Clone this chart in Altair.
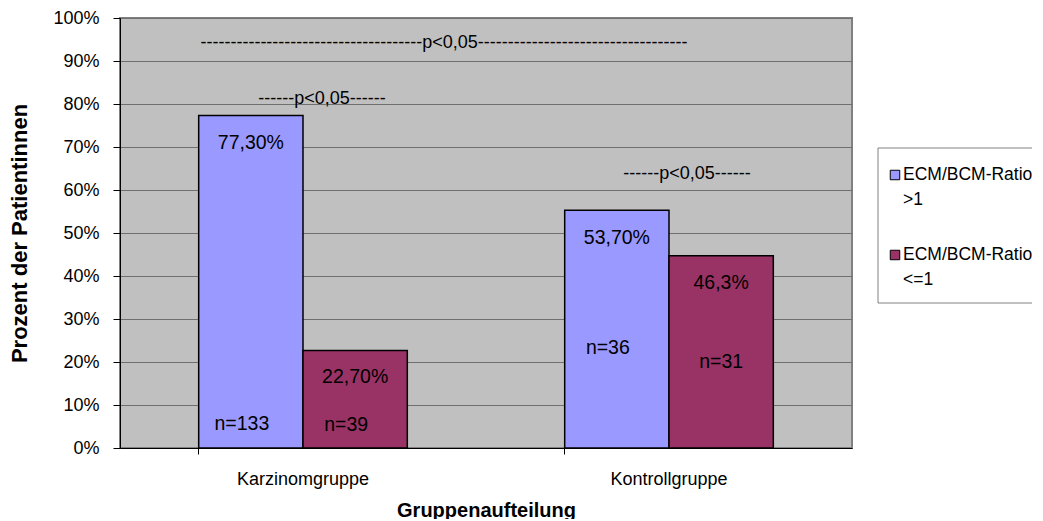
import altair as alt
import pandas as pd

groups = ["Karzinomgruppe", "Kontrollgruppe"]
series = ["ECM/BCM-Ratio >1", "ECM/BCM-Ratio <=1"]
colors = ["#9999FF", "#993366"]

# bar heights as drawn (percent)
karzinom_vals = [77.3, 22.7]
kontroll_vals = [55.3, 44.7]

pct_labels = ["77,30%", "22,70%", "53,70%", "46,3%"]
n_labels = ["n=133", "n=39", "n=36", "n=31"]
pct_label_y = [70.9, 16.6, 48.8, 38.3]
n_label_y = [5.6, 5.3, 23.2, 20.1]
n_label_shifted = [True, True, True, False]

rows = []
vals = [karzinom_vals, kontroll_vals]
k = 0
for gi, g in enumerate(groups):
    for si, s in enumerate(series):
        rows.append({"group": g, "series": s, "value": vals[gi][si],
                     "pct": pct_labels[k], "n": n_labels[k],
                     "pct_y": pct_label_y[k], "n_y": n_label_y[k],
                     "shift": n_label_shifted[k]})
        k += 1
df = pd.DataFrame(rows)

FONT = "Liberation Sans"

x_enc = alt.X("group:N", sort=groups,
              scale=alt.Scale(paddingInner=0.43, paddingOuter=0.215),
              axis=alt.Axis(title="Gruppenaufteilung", labelAngle=0, bandPosition=0,
                            tickSize=6, labelPadding=16, labelFontSize=18, labelFont=FONT,
                            titleFontSize=20, titleFont=FONT, titleFontWeight="bold",
                            titleY=68, titleBaseline="alphabetic",
                            domainColor="black", tickColor="black", labelColor="black",
                            titleColor="black", grid=False))
xo_enc = alt.XOffset("series:N", sort=series)
y_scale = alt.Scale(domain=[0, 100])

base = alt.Chart(df)

bars = base.mark_bar(stroke="black", strokeWidth=1.5).encode(
    x=x_enc,
    xOffset=xo_enc,
    y=alt.Y("value:Q", scale=y_scale,
            axis=alt.Axis(title="Prozent der Patientinnen", values=list(range(0, 101, 10)),
                          labelExpr="datum.value + '%'", tickSize=7, labelPadding=14,
                          labelFontSize=18, labelFont=FONT, titleFontSize=22, titleFont=FONT,
                          titleFontWeight="bold", titleX=-101, titleBaseline="middle",
                          domainColor="black", tickColor="black", labelColor="black",
                          titleColor="black", grid=True, gridColor="#707070", gridWidth=1)),
    color=alt.Color("series:N", scale=alt.Scale(domain=series, range=colors), legend=None),
)

pct_text = base.mark_text(fontSize=19.5, font=FONT, color="black", baseline="middle").encode(
    x=alt.X("group:N", sort=groups), xOffset=xo_enc,
    y=alt.Y("pct_y:Q", scale=y_scale), text="pct:N")

n_text_a = base.transform_filter("datum.shift").mark_text(
    fontSize=19.5, font=FONT, color="black", baseline="middle", dx=-9).encode(
    x=alt.X("group:N", sort=groups), xOffset=xo_enc,
    y=alt.Y("n_y:Q", scale=y_scale), text="n:N")
n_text_b = base.transform_filter("!datum.shift").mark_text(
    fontSize=19.5, font=FONT, color="black", baseline="middle").encode(
    x=alt.X("group:N", sort=groups), xOffset=xo_enc,
    y=alt.Y("n_y:Q", scale=y_scale), text="n:N")

ann_texts = [
    "-" * 37 + "p<0,05" + "-" * 35,
    "------p<0,05------",
    "------p<0,05------",
]
ann_x = [324, 202, 567]
ann_y = [94.2, 81.2, 63.7]
ann_layers = []
for t, ax, ay in zip(ann_texts, ann_x, ann_y):
    ann_layers.append(
        alt.Chart(pd.DataFrame({"t": [t], "yy": [ay]})).mark_text(
            fontSize=18, font=FONT, color="black", baseline="middle", align="center").encode(
            x=alt.value(ax), y=alt.Y("yy:Q", scale=y_scale), text="t:N")
    )

# manual legend
one = pd.DataFrame({"a": [0]})
legend_box = alt.Chart(one).mark_rect(fill="white", stroke="#808080", strokeWidth=1).encode(
    x=alt.value(758), x2=alt.value(915), y=alt.value(130), y2=alt.value(285))
leg_sq1 = alt.Chart(one).mark_square(size=90, fill=colors[0], stroke="black",
                                     strokeWidth=1, opacity=1).encode(
    x=alt.value(775), y=alt.value(157))
leg_sq2 = alt.Chart(one).mark_square(size=90, fill=colors[1], stroke="black",
                                     strokeWidth=1, opacity=1).encode(
    x=alt.value(775), y=alt.value(237))
leg_t1 = alt.Chart(pd.DataFrame({"t": [series[0].replace(" ", "\n")]})).mark_text(
    fontSize=17.5, font=FONT, color="black", align="left", baseline="top", lineBreak="\n",
    lineHeight=25).encode(x=alt.value(783), y=alt.value(148), text="t:N")
leg_t2 = alt.Chart(pd.DataFrame({"t": [series[1].replace(" ", "\n")]})).mark_text(
    fontSize=17.5, font=FONT, color="black", align="left", baseline="top", lineBreak="\n",
    lineHeight=25).encode(x=alt.value(783), y=alt.value(228), text="t:N")

chart = alt.layer(bars, pct_text, n_text_a, n_text_b, *ann_layers, legend_box, leg_sq1,
                  leg_sq2, leg_t1, leg_t2).properties(
    width=732, height=430,
    autosize=alt.AutoSizeParams(type="none"),
    padding={"left": 112, "top": 10, "right": 180, "bottom": 71},
    background="white",
).configure_view(fill="#C0C0C0", stroke="#808080", strokeWidth=2)

chart.save("out.html", embed_options={"renderer": "svg", "actions": False})
